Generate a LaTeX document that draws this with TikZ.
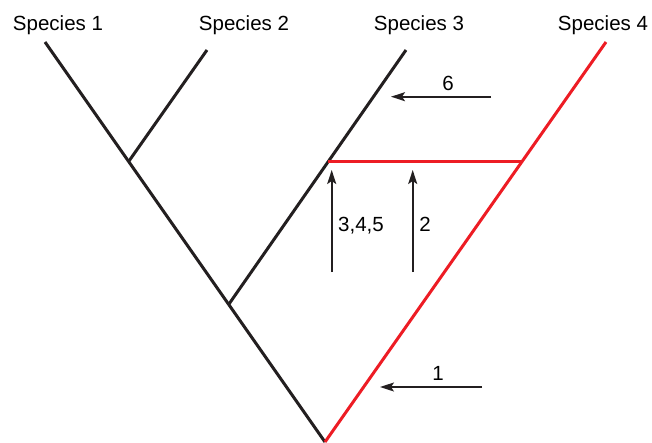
\documentclass[tikz,border=0pt]{standalone}
\usepackage{fontspec}
\setmainfont{Liberation Sans}
\usetikzlibrary{arrows.meta}
\definecolor{treered}{RGB}{237,28,36}
\definecolor{treeblack}{RGB}{35,31,32}

\begin{document}
\begin{tikzpicture}[x=1pt, y=-1pt, >={Stealth[length=14pt,width=9pt,inset=3pt]},
    branch/.style={treeblack, line width=3pt},
    redbranch/.style={treered, line width=3pt},
    event/.style={->, treeblack, line width=1.6pt},
    taxon/.style={font=\fontsize{20.5}{24}\selectfont, anchor=base, inner sep=0pt}]
    \useasboundingbox (0,0) rectangle (652,442);

    % Points of the tree
    \coordinate (root) at (325,442);
    \coordinate (n12) at (129,161);
    \coordinate (n123) at (229,304);
    \coordinate (h3) at (328,161);
    \coordinate (h4) at (523,161);
    \coordinate (t1) at (45,42);
    \coordinate (t2) at (207,50);
    \coordinate (t3) at (406,50);
    \coordinate (t4) at (606,42);

    % Species names
    \node[taxon] (s1) at (58,30.7) {Species 1};
    \node[taxon] (s2) at (244,30.7) {Species 2};
    \node[taxon] (s3) at (419,30.7) {Species 3};
    \node[taxon] (s4) at (603,30.7) {Species 4};

    % Black branches
    \draw[branch] (root) -- (t1);
    \draw[branch] (n12) -- (t2);
    \draw[branch] (n123) -- (t3);

    % Red branches (transfer)
    \draw[redbranch] (root) -- (t4);
    \draw[redbranch] (h3) -- (h4);

    % Event arrows
    \coordinate (a6s) at (491,96.7);
    \coordinate (a6e) at (391,96.7);
    \coordinate (a1s) at (482,387);
    \coordinate (a1e) at (380,387);
    \coordinate (a3s) at (331.7,272);
    \coordinate (a3e) at (331.7,170);
    \coordinate (a2s) at (412.7,272);
    \coordinate (a2e) at (412.7,170);
    \draw[event] (a6s) -- (a6e);
    \draw[event] (a1s) -- (a1e);
    \draw[event] (a3s) -- (a3e);
    \draw[event] (a2s) -- (a2e);

    \node[taxon] (e6) at (448,90) {6};
    \node[taxon] (e1) at (438,380) {1};
    \node[taxon, anchor=base west] (e345) at (338,231.7) {3,4,5};
    \node[taxon] (e2) at (425,231.7) {2};
\end{tikzpicture}
\end{document}
